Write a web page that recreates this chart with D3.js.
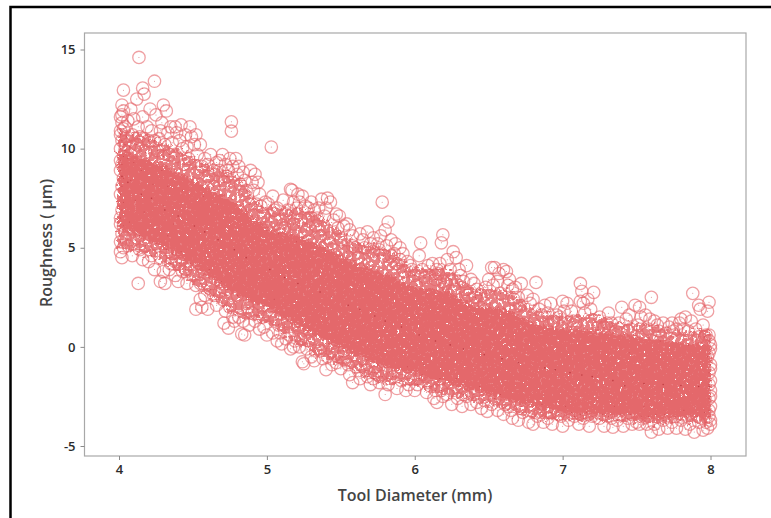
<!DOCTYPE html>
<html><head><meta charset="utf-8"><style>html,body{margin:0;background:#fff}svg{display:block}text{font-family:"Open Sans",sans-serif}</style>
<script src="https://cdn.jsdelivr.net/npm/d3@7"></script></head><body><div id="c"></div>
<script>
const xTicks=[4,5,6,7,8], yTicks=[-5,0,5,10,15];
const xTitle="Tool Diameter (mm)", yTitle="Roughness ( µm)";
// dense core of the overplotted cloud: diameter, upper and lower roughness
const coreX=[4.0,4.2,4.4,4.6,4.8,5.0,5.2,5.4,5.6,5.8,6.0,6.2,6.4,6.6,6.8,7.0,7.2,7.4,7.6,7.8,8.0];
const outerHi=[11,10.6,10,9.2,8.6,7,7,6.4,5.3,5,4,4,3,2.9,2,1.6,1.6,1.2,1.1,0.8,0.8];
const outerLo=[5,4.6,3.8,2.6,1.6,1.2,0.2,-0.6,-1.2,-1.8,-1.9,-2.4,-2.7,-3.1,-3.5,-3.7,-3.7,-3.7,-3.9,-3.8,-3.9];
const innerHi=[9.8,9.4,8.8,8,7.2,6,5.6,5,4.2,3.7,3,2.8,2.1,1.9,1.2,0.9,0.8,0.6,0.4,0.2,0.1];
const innerLo=[6,5.4,4.6,3.6,2.6,2,1.1,0.3,-0.4,-1,-1.3,-1.8,-2.2,-2.6,-3,-3.3,-3.4,-3.4,-3.6,-3.5,-3.6];
// centre trail where the markers pile up
const trail=[[4.02,8.6],[4.06,8.3],[4.15,7.7],[4.22,7.5],[4.31,6.9],[4.4,6.6],[4.51,6.1],[4.58,5.8],[4.67,5.4],[4.78,4.9],[4.86,4.5],[5.02,3.9],[5.12,3.5],[5.21,3.2],[5.36,2.77],[5.44,2.5],[5.55,2.1],[5.63,1.9],[5.73,1.56],[5.8,1.3],[5.91,1.0],[6.03,0.6],[6.14,0.3],[6.24,0.1],[6.33,-0.1],[6.47,-0.4],[6.59,-0.6],[6.7,-0.8],[6.88,-1.06],[6.95,-1.15],[7.05,-1.3],[7.13,-1.42],[7.2,-1.5],[7.34,-1.7],[7.42,-1.96],[7.55,-1.85],[7.68,-1.9],[7.8,-1.95],[7.92,-2.0],[7.99,-2.0]];
const d40=[[4.135,14.6],[4.03,12.95],[4.16,13.05],[4.17,12.75],[4.24,13.4],[4.02,12.2],[4.03,11.9],[4.01,11.6],[4.02,11.3],[4.03,11],[4.01,10.7],[4.02,10.4],[4.04,10.2],[4.01,10],[4.03,9.6],[4.02,9.2],[4.01,8.9],[4.03,8.5],[4.02,8.1],[4.01,7.7],[4.03,7.3],[4.02,6.9],[4.01,6.5],[4.03,6.1],[4.02,5.7],[4.01,5.3],[4.03,5],[4.02,4.5],[4.08,12],[4.1,11.5],[4.12,12.5],[4.13,11.1],[4.09,10.7],[4.07,10.1],[4.1,9.3],[4.08,8.4],[4.11,7.4],[4.07,6.3],[4.1,5.4],[4.09,4.6],[4.13,3.2],[4.16,4.4],[4.14,5.6],[4.17,6.8],[4.15,8.9],[4.18,9.8],[4.17,10.5],[4.16,11.6],[4.21,12],[4.25,11.7],[4.22,10.9],[4.26,9.9],[4.22,4.6],[4.24,3.9],[4.25,5.2],[4.23,8.2],[4.24,10.4],[4.01,10.9],[4.02,11.7],[4.04,11.1],[4.05,10.6],[4.06,11.4],[4.01,9.4],[4.04,9.9],[4.06,9.5],[4.01,6.2],[4.04,5.5],[4.06,5.1],[4.01,4.8],[4.12,10.2],[4.14,10.6],[4.11,9.9],[4.19,11.1],[4.2,10.4],[4.14,4.9],[4.18,5.1],[4.2,4.3]];
const d425=[[4.3,12.2],[4.32,11.9],[4.29,11.3],[4.35,11.1],[4.27,10.5],[4.31,10.2],[4.34,9.7],[4.29,8.9],[4.33,8.1],[4.3,7.1],[4.28,3.3],[4.31,3.2],[4.34,3.9],[4.28,4.5],[4.36,4.7],[4.33,5.6],[4.38,11.1],[4.42,11.2],[4.41,10.4],[4.45,10.7],[4.48,11.1],[4.46,10.1],[4.39,9.6],[4.44,9.2],[4.4,3.3],[4.43,3.8],[4.46,3.2],[4.38,4.3],[4.42,4.8],[4.48,4.2],[4.5,3.6],[4.49,10.6],[4.47,9.5],[4.43,7.9],[4.37,6.2],[4.28,10.9],[4.33,10.8],[4.36,10.3],[4.39,10.8],[4.43,10],[4.3,9.6],[4.35,4.2],[4.3,3.8],[4.38,3.6],[4.45,3.9],[4.41,4.2],[4.32,4.9]];
const d450=[[4.52,10.7],[4.55,10.2],[4.53,9.7],[4.58,9.5],[4.62,9.7],[4.66,9.3],[4.7,9.7],[4.72,9.2],[4.76,11.35],[4.76,10.88],[4.75,9.5],[4.74,8.9],[4.68,8.9],[4.6,8.6],[4.53,8.8],[4.64,8.1],[4.71,8.3],[4.52,1.9],[4.56,2.0],[4.6,1.9],[4.66,2.1],[4.7,2.4],[4.74,0.95],[4.72,1.8],[4.55,3.2],[4.62,2.9],[4.69,3.3],[4.54,4.2],[4.61,3.9],[4.73,2.9],[4.57,7.6],[4.67,7.2],[4.51,10.2],[4.56,9.1],[4.6,9.2],[4.64,8.9],[4.68,9.4],[4.73,8.6],[4.77,9.1],[4.52,3.1],[4.58,2.6],[4.64,2.6],[4.68,2.8],[4.75,2.0],[4.77,1.5],[4.71,1.2],[4.55,2.4]];
const d475=[[4.79,9.5],[4.81,9.1],[4.84,8.8],[4.86,7.9],[4.89,8.9],[4.92,8.7],[4.94,8.3],[4.91,7.9],[4.82,8.2],[4.96,7.1],[4.98,6.6],[4.88,7.2],[4.78,1.3],[4.83,0.65],[4.85,0.6],[4.81,1.5],[4.88,1.1],[4.92,1.3],[4.95,0.9],[4.98,1.0],[4.87,2.0],[4.94,1.9],[4.8,2.6],[5.03,10.08],[5.01,7.2],[5.05,6.9],[5.03,6.3],[5.07,7.0],[5.0,5.9],[5.08,5.7],[5.02,1.6],[5.04,0.7],[5.08,1.1],[5.07,0.3],[5.1,0.15],[5.05,2.4],[4.8,8.7],[4.85,8.4],[4.9,8.3],[4.95,7.7],[4.99,7.3],[4.93,7.2],[5.04,7.6],[4.9,1.7],[4.84,1.3],[4.97,1.5],[5.0,0.6],[5.06,1.4],[5.09,0.7]];
const d510=[[5.11,7.4],[5.14,6.9],[5.16,7.95],[5.17,7.9],[5.21,7.7],[5.24,7.6],[5.2,7.0],[5.26,7.1],[5.23,6.4],[5.18,6.2],[5.12,6.0],[5.28,6.5],[5.3,7.3],[5.32,6.9],[5.27,5.9],[5.33,6.1],[5.2,5.3],[5.13,0.4],[5.16,-0.1],[5.19,0.3],[5.24,-0.75],[5.25,-0.85],[5.22,0.0],[5.27,-0.1],[5.3,-0.5],[5.33,-0.2],[5.14,1.3],[5.21,1.1],[5.29,0.8],[5.35,7.0],[5.37,7.45],[5.41,7.5],[5.43,7.3],[5.39,6.6],[5.45,6.4],[5.36,5.6],[5.42,5.5],[5.38,-0.6],[5.4,-1.15],[5.44,-0.9],[5.46,-0.4],[5.42,0.2],[5.13,6.7],[5.18,7.3],[5.22,7.3],[5.28,7.0],[5.34,6.5],[5.4,7.0],[5.15,0.6],[5.18,0.0],[5.23,0.4],[5.28,0.3],[5.32,-0.7],[5.36,-0.2],[5.41,-0.5],[5.44,-0.2]];
const d550=[[5.47,6.7],[5.49,6.6],[5.52,6.1],[5.5,5.4],[5.56,5.9],[5.58,5.1],[5.6,5.0],[5.63,5.7],[5.65,5.4],[5.68,5.8],[5.7,5.2],[5.72,4.8],[5.62,4.5],[5.54,4.8],[5.76,4.9],[5.78,7.3],[5.77,5.6],[5.8,5.9],[5.82,6.3],[5.81,5.1],[5.84,4.6],[5.5,-1.1],[5.53,-0.7],[5.56,-1.4],[5.6,-1.0],[5.58,-1.8],[5.63,-1.6],[5.67,-1.2],[5.7,-1.9],[5.73,-1.3],[5.76,-1.8],[5.8,-2.4],[5.82,-1.9],[5.85,-1.5],[5.52,-0.2],[5.65,-0.6],[5.75,-0.9],[5.48,6.0],[5.54,6.2],[5.58,5.6],[5.66,5.0],[5.72,5.5],[5.75,5.2],[5.79,4.6],[5.84,5.4],[5.47,-0.8],[5.51,-0.5],[5.55,-0.9],[5.62,-1.2],[5.68,-1.5],[5.72,-1.6],[5.78,-1.5],[5.83,-1.3]];
const d586=[[5.87,5.2],[5.9,5.0],[5.92,4.7],[5.95,4.3],[5.97,4.1],[5.88,4.2],[5.93,3.8],[6.0,3.6],[6.03,4.6],[6.04,5.25],[6.01,3.1],[6.07,3.5],[6.09,4.1],[6.12,4.2],[6.14,3.4],[6.17,4.2],[6.18,5.25],[6.19,5.65],[6.16,3.7],[5.88,-2.1],[5.91,-1.7],[5.94,-2.2],[5.97,-1.6],[6.0,-2.2],[6.02,-1.9],[6.05,-1.4],[6.08,-2.3],[6.11,-2.0],[6.13,-2.6],[6.15,-2.8],[6.18,-2.2],[6.06,-0.9],[5.95,-1.0],[6.17,-1.6],[5.86,4.7],[5.9,4.4],[5.98,3.9],[6.05,3.9],[6.1,3.6],[6.15,3.9],[6.19,3.3],[5.9,-1.3],[5.96,-1.9],[6.03,-1.6],[6.09,-1.8],[6.14,-2.2],[6.19,-2.5]];
const d620=[[6.22,4.4],[6.24,3.9],[6.26,4.8],[6.28,4.5],[6.3,3.9],[6.33,3.3],[6.35,4.1],[6.38,3.4],[6.4,3.2],[6.42,2.9],[6.21,3.2],[6.27,2.9],[6.36,2.6],[6.45,2.6],[6.48,3.0],[6.52,4.0],[6.54,4.0],[6.5,3.4],[6.56,3.3],[6.6,3.9],[6.62,3.8],[6.64,3.4],[6.58,2.7],[6.66,2.9],[6.22,-2.4],[6.25,-2.9],[6.29,-2.6],[6.32,-3.0],[6.35,-2.5],[6.38,-2.9],[6.42,-2.8],[6.45,-3.1],[6.49,-3.25],[6.52,-2.9],[6.56,-3.2],[6.6,-3.4],[6.63,-3.0],[6.66,-3.6],[6.28,-1.6],[6.44,-2.0],[6.58,-2.4],[6.25,3.4],[6.31,3.6],[6.34,2.9],[6.41,2.5],[6.47,2.2],[6.53,3.1],[6.57,3.7],[6.63,3.1],[6.67,2.4],[6.26,-2.2],[6.33,-2.4],[6.4,-2.4],[6.47,-2.7],[6.54,-2.6],[6.61,-2.9],[6.65,-3.2]];
const d670=[[6.68,3.0],[6.72,3.2],[6.7,2.5],[6.76,2.6],[6.82,3.25],[6.8,2.4],[6.84,1.9],[6.88,2.1],[6.92,2.2],[6.9,1.7],[6.96,1.6],[7.0,2.3],[7.03,2.2],[6.98,1.5],[7.06,1.8],[7.12,3.2],[7.13,2.8],[7.12,2.3],[7.17,2.4],[7.21,2.75],[7.15,1.7],[7.09,1.2],[6.74,1.6],[6.7,-3.7],[6.73,-3.3],[6.77,-3.8],[6.8,-3.9],[6.83,-3.5],[6.87,-3.8],[6.9,-3.6],[6.93,-3.9],[6.97,-3.4],[7.0,-4.0],[7.04,-3.7],[7.08,-3.5],[7.11,-3.9],[7.14,-3.6],[7.18,-4.0],[7.2,-3.5],[6.86,-2.9],[7.02,-3.0],[6.71,2.1],[6.78,2.2],[6.86,1.6],[6.94,1.3],[7.01,1.8],[7.07,1.3],[7.14,2.2],[7.19,1.9],[6.72,-3.0],[6.79,-3.2],[6.85,-3.3],[6.92,-3.3],[6.99,-3.5],[7.06,-3.3],[7.12,-3.4],[7.16,-3.3]];
const d725=[[7.25,1.5],[7.28,1.0],[7.31,1.7],[7.33,1.2],[7.36,0.8],[7.4,2.0],[7.43,1.4],[7.46,0.9],[7.49,2.1],[7.52,2.0],[7.53,1.5],[7.56,1.6],[7.58,0.9],[7.6,2.5],[7.62,1.3],[7.65,0.8],[7.68,1.2],[7.7,0.7],[7.25,-3.6],[7.28,-4.0],[7.31,-3.5],[7.34,-4.05],[7.37,-3.7],[7.41,-4.0],[7.44,-3.6],[7.47,-3.9],[7.5,-3.8],[7.53,-3.5],[7.57,-3.9],[7.6,-4.3],[7.62,-3.9],[7.65,-4.15],[7.68,-3.7],[7.71,-4.1],[7.35,-3.0],[7.55,-3.0],[7.45,-0.3],[7.66,0.3],[7.24,1.0],[7.3,1.2],[7.38,1.2],[7.45,1.6],[7.51,1.1],[7.59,1.4],[7.64,1.1],[7.72,1.0],[7.27,-3.4],[7.33,-3.6],[7.39,-3.4],[7.46,-3.4],[7.52,-3.9],[7.58,-3.5],[7.63,-3.4],[7.69,-3.4]];
const d772=[[7.74,1.2],[7.77,0.9],[7.8,1.4],[7.83,1.5],[7.85,0.8],[7.88,2.7],[7.87,1.3],[7.92,2.1],[7.93,1.9],[7.99,2.25],[7.98,1.8],[7.95,1.1],[7.97,0.6],[7.99,0.3],[8.0,-0.1],[7.98,-0.5],[8.0,-0.9],[7.99,-1.3],[8.0,-1.7],[8.0,-2.2],[7.99,-2.6],[8.0,-3.0],[7.99,-3.5],[8.0,-3.9],[7.98,-4.1],[7.95,-4.2],[7.92,-3.8],[7.89,-4.3],[7.86,-3.9],[7.83,-4.15],[7.8,-3.7],[7.77,-4.1],[7.74,-3.8],[7.9,-3.0],[7.82,-3.2],[7.96,-3.3],[7.94,0.2],[7.85,0.1],[7.75,0.8],[7.79,1.2],[7.82,0.9],[7.9,0.9],[7.92,0.5],[7.96,0.5],[7.99,0.6],[8.0,0.1],[7.99,-0.3],[8.0,-1.1],[7.99,-1.9],[8.0,-2.5],[7.99,-3.2],[8.0,-3.7],[7.76,-3.5],[7.84,-3.5],[7.91,-3.5],[7.97,-3.8]];
const series=[d40,d425,d450,d475,d510,d550,d586,d620,d670,d725,d772];
const W=771,H=518;
const x=d3.scaleLinear().domain([4,8]).range([119,710.5]);
const y=d3.scaleLinear().domain([-5,15]).range([446,49.5]);
const fr={l:84.5,r:746,t:33,b:456};
const svg=d3.select("#c").append("svg").attr("width",W).attr("height",H);
svg.append("rect").attr("width",W).attr("height",H).attr("fill","#fff");
const defs=svg.append("defs");
const mottle=(id,freq,seed,slope,icept,disp)=>{
  const f=defs.append("filter").attr("id",id).attr("x","-5%").attr("y","-5%").attr("width","110%").attr("height","110%").attr("color-interpolation-filters","sRGB");
  f.append("feTurbulence").attr("type","fractalNoise").attr("baseFrequency",freq).attr("numOctaves",2).attr("seed",seed).attr("result","n");
  f.append("feDisplacementMap").attr("in","SourceGraphic").attr("in2","n").attr("scale",disp).attr("xChannelSelector","R").attr("yChannelSelector","G").attr("result","d");
  f.append("feColorMatrix").attr("in","n").attr("type","matrix").attr("values",`0 0 0 0 0 0 0 0 0 0 0 0 0 0 0 ${slope} 0 0 0 ${icept}`).attr("result","m");
  f.append("feComposite").attr("in","d").attr("in2","m").attr("operator","in");
};
mottle("holesWide",.3,4,14,-5.0,16);
mottle("holesFew",.35,9,14,-3.6,12);
svg.append("path").attr("d",`M10.5,${H}V7H${W}`).attr("fill","none").attr("stroke","#000").attr("stroke-width",2.5);
svg.append("rect").attr("x",fr.l).attr("y",fr.t).attr("width",fr.r-fr.l).attr("height",fr.b-fr.t).attr("fill","#fff").attr("stroke","#a8a8a8").attr("stroke-width",1.2);
const band=(hi,lo)=>d3.area().x(d=>x(d)).y0((d,i)=>y(lo[i])).y1((d,i)=>y(hi[i])).curve(d3.curveMonotoneX)(coreX);
svg.append("path").attr("d",band(outerHi,outerLo)).attr("fill","#e5696d").attr("opacity",.85).attr("filter","url(#holesWide)");
const pts=series.flat();
svg.append("g").selectAll("circle").data(pts).join("circle").attr("cx",d=>x(d[0])).attr("cy",d=>y(d[1])).attr("r",6.2).attr("fill","none").attr("stroke","#e5666a").attr("stroke-width",1.3).attr("stroke-opacity",.62);
svg.append("path").attr("d",band(innerHi,innerLo)).attr("fill","#e4686b").attr("filter","url(#holesFew)");
svg.append("g").selectAll("circle").data(pts).join("circle").attr("cx",d=>x(d[0])).attr("cy",d=>y(d[1])).attr("r",.5).attr("fill","#c0343a").attr("opacity",.6);
svg.append("g").selectAll("circle").data(trail).join("circle").attr("cx",d=>x(d[0])).attr("cy",d=>y(d[1])).attr("r",.8).attr("fill","#a81f28").attr("opacity",.6);
const style=(g)=>{g.select(".domain").remove();g.selectAll("line").attr("stroke","#8a8a8a").attr("stroke-width",1);g.selectAll("text").attr("fill","#2b2b2b").attr("font-size",13).attr("font-weight",600)};
svg.append("g").attr("transform",`translate(0,${fr.b})`).call(d3.axisBottom(x).tickValues(xTicks).tickFormat(d3.format("d")).tickSize(4).tickPadding(5)).call(style);
svg.append("g").attr("transform",`translate(${fr.l},0)`).call(d3.axisLeft(y).tickValues(yTicks).tickFormat(d=>d<0?"-"+Math.abs(d):d).tickSize(4).tickPadding(5)).call(style);
svg.append("text").attr("x",415).attr("y",501).attr("text-anchor","middle").attr("font-size",16).attr("font-weight",600).attr("fill","#444").text(xTitle);
svg.append("text").attr("transform","translate(52,243) rotate(-90)").attr("text-anchor","middle").attr("font-size",16).attr("font-weight",600).attr("fill","#444").text(yTitle);
</script></body></html>
